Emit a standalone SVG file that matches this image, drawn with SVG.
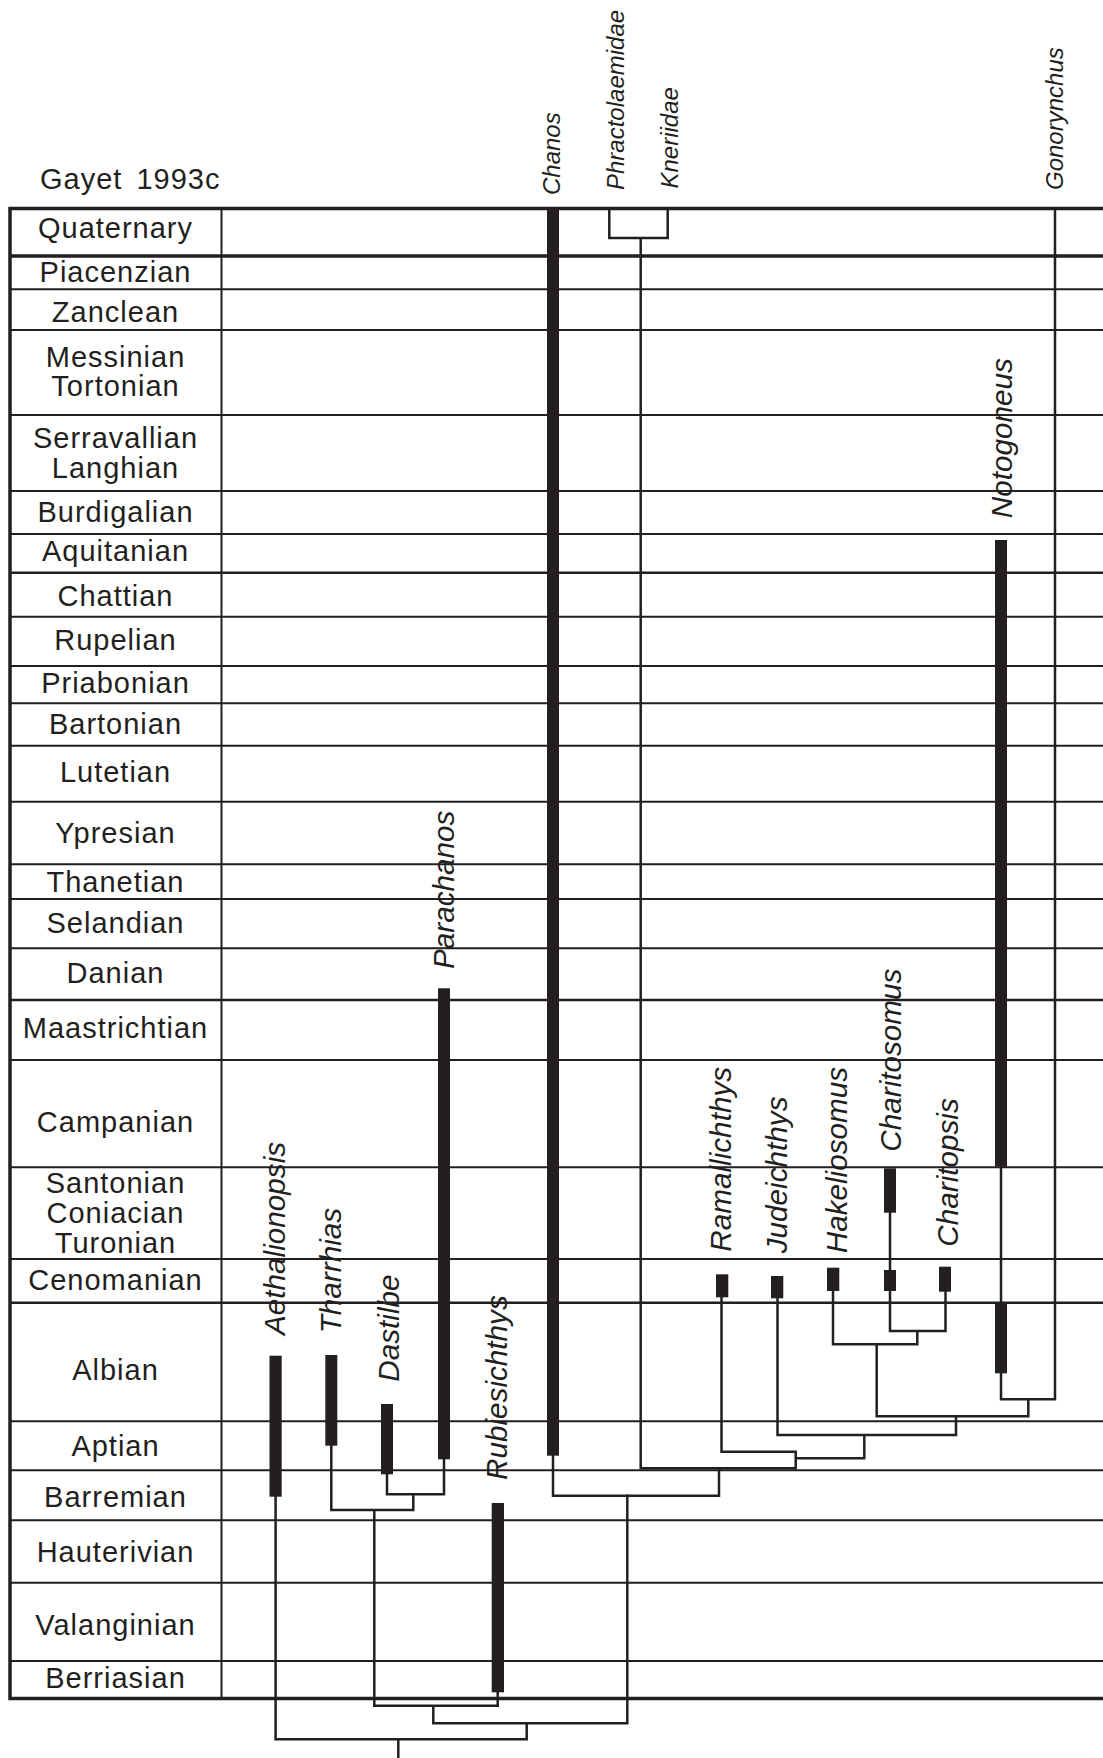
<svg xmlns="http://www.w3.org/2000/svg" width="1103" height="1758" viewBox="0 0 1103 1758">
<style>
.bg{fill:#ffffff}
.row{stroke:#231f20;stroke-width:2;fill:none}
.rowk{stroke:#231f20;stroke-width:2.6;fill:none}
.frame{stroke:#231f20;stroke-width:3.5;fill:none}
.lab{font-family:"Liberation Sans",Arial,Helvetica,sans-serif;font-size:29px;letter-spacing:1px;text-anchor:middle;fill:#231f20}
.title{font-family:"Liberation Sans",Arial,Helvetica,sans-serif;font-size:29px;letter-spacing:1px;word-spacing:5px;fill:#231f20}
.tx{font-family:"Liberation Sans",Arial,Helvetica,sans-serif;font-style:italic;font-size:29.7px;fill:#231f20}
.txs{font-family:"Liberation Sans",Arial,Helvetica,sans-serif;font-style:italic;font-size:24px;fill:#231f20}
.bar{fill:#231f20}
.ln{stroke:#231f20;stroke-width:2.5;fill:none;stroke-linecap:square}
</style>
<rect class="bg" x="0" y="0" width="1103" height="1758"/>
<text class="title" x="40" y="189">Gayet 1993c</text>
<g id="timescale">
<path class="frame" d="M1103,208.5 H10 V1698.5 H1103"/>
<path class="frame" d="M10,256 H1103"/>
<path class="row" d="M221.5,208.5 V1698.5"/>
<path class="row" d="M10,289.3 H1103 M10,330 H1103 M10,415 H1103 M10,491 H1103 M10,534 H1103 M10,616.7 H1103 M10,666 H1103 M10,703.3 H1103 M10,745.7 H1103 M10,801.7 H1103 M10,864.3 H1103 M10,899 H1103 M10,948.3 H1103 M10,1060 H1103 M10,1167.3 H1103 M10,1259 H1103 M10,1421.3 H1103 M10,1470.3 H1103 M10,1520.3 H1103 M10,1582.7 H1103 M10,1661 H1103"/>
<path class="rowk" d="M10,572.7 H1103 M10,1000 H1103 M10,1302.7 H1103"/>
<text class="lab" x="115.5" y="238.3">Quaternary</text>
<text class="lab" x="115.5" y="281.7">Piacenzian</text>
<text class="lab" x="115.5" y="321.7">Zanclean</text>
<text class="lab" x="115.5" y="367.3">Messinian</text>
<text class="lab" x="115.5" y="396">Tortonian</text>
<text class="lab" x="115.5" y="448.3">Serravallian</text>
<text class="lab" x="115.5" y="477.7">Langhian</text>
<text class="lab" x="115.5" y="521.7">Burdigalian</text>
<text class="lab" x="115.5" y="561">Aquitanian</text>
<text class="lab" x="115.5" y="605.7">Chattian</text>
<text class="lab" x="115.5" y="650">Rupelian</text>
<text class="lab" x="115.5" y="693.3">Priabonian</text>
<text class="lab" x="115.5" y="734.3">Bartonian</text>
<text class="lab" x="115.5" y="781.7">Lutetian</text>
<text class="lab" x="115.5" y="843.3">Ypresian</text>
<text class="lab" x="115.5" y="891.7">Thanetian</text>
<text class="lab" x="115.5" y="932.7">Selandian</text>
<text class="lab" x="115.5" y="983.3">Danian</text>
<text class="lab" x="115.5" y="1038.3">Maastrichtian</text>
<text class="lab" x="115.5" y="1131.7">Campanian</text>
<text class="lab" x="115.5" y="1193.3">Santonian</text>
<text class="lab" x="115.5" y="1222.7">Coniacian</text>
<text class="lab" x="115.5" y="1252.7">Turonian</text>
<text class="lab" x="115.5" y="1290">Cenomanian</text>
<text class="lab" x="115.5" y="1380">Albian</text>
<text class="lab" x="115.5" y="1456">Aptian</text>
<text class="lab" x="115.5" y="1507.3">Barremian</text>
<text class="lab" x="115.5" y="1561.7">Hauterivian</text>
<text class="lab" x="115.5" y="1635">Valanginian</text>
<text class="lab" x="115.5" y="1688.3">Berriasian</text>
</g>
<g id="connectors">
<path class="ln" d="M275.6,1496 V1739.3 H526.7 V1723.3 M398.3,1739.3 V1758"/>
<path class="ln" d="M331.3,1445 V1510 H413.3 V1494.3 M387,1474 V1494.3 H444 V1459 M374.3,1510 V1705.7 H497.7 V1692 M433.3,1705.7 V1723.3 H627.3 V1495.7 H553 V1455"/>
<path class="ln" d="M627.3,1495.7 H719 V1468.3 H640.7 V238 M609.3,208.5 V238 H667.7 V208.5"/>
<path class="ln" d="M719,1468.3 H795.7 V1451.7 H721.5 V1297 M795.7,1458.3 H864.3 V1435 H777.5 V1298 M864.3,1435 H956 V1416.3 H876.7 V1344.3 M833,1291 V1344.3 H917.3 V1331 M876.7,1416.3 H1028.3 V1399.3 H1001 V1373 M1028.3,1399.3 H1055 V208.5 M890,1291 V1331 H945.5 V1291.5 M890,1270 V1212.5 M1001,1166.7 V1302.7"/>
</g>
<g id="Chanos"><rect class="bar" x="547" y="208.5" width="12" height="1247.2"/><text class="txs" transform="translate(559.5,195) rotate(-90)">Chanos</text></g>
<g id="Phractolaemidae"><text class="txs" transform="translate(623.5,190) rotate(-90)">Phractolaemidae</text></g>
<g id="Kneriidae"><text class="txs" transform="translate(677.5,188.5) rotate(-90)">Kneriidae</text></g>
<g id="Gonorynchus"><text class="txs" transform="translate(1063,190) rotate(-90)">Gonorynchus</text></g>
<g id="Notogoneus"><rect class="bar" x="995" y="540" width="12" height="626.7"/><rect class="bar" x="995" y="1302.7" width="12" height="70.6"/><text class="tx" transform="translate(1011.5,518.3) rotate(-90)">Notogoneus</text></g>
<g id="Parachanos"><rect class="bar" x="438" y="988.3" width="12" height="471"/><text class="tx" transform="translate(453.5,969) rotate(-90)">Parachanos</text></g>
<g id="Aethalionopsis"><rect class="bar" x="269.5" y="1355.7" width="12.2" height="141"/><text class="tx" transform="translate(284.5,1335) rotate(-90)">Aethalionopsis</text></g>
<g id="Tharrhias"><rect class="bar" x="325.3" y="1355" width="12" height="90.7"/><text class="tx" transform="translate(341,1333.3) rotate(-90)">Tharrhias</text></g>
<g id="Dastilbe"><rect class="bar" x="381" y="1404" width="12" height="70.3"/><text class="tx" transform="translate(399,1381.7) rotate(-90)">Dastilbe</text></g>
<g id="Rubiesichthys"><rect class="bar" x="491.7" y="1503" width="12.3" height="189.3"/><text class="tx" transform="translate(507,1480) rotate(-90)">Rubiesichthys</text></g>
<g id="Ramallichthys"><rect class="bar" x="716" y="1274.3" width="12.3" height="23"/><text class="tx" transform="translate(731,1251.7) rotate(-90)">Ramallichthys</text></g>
<g id="Judeichthys"><rect class="bar" x="771" y="1276" width="12.3" height="22.3"/><text class="tx" transform="translate(787,1253.3) rotate(-90)">Judeichthys</text></g>
<g id="Hakeliosomus"><rect class="bar" x="827" y="1267.7" width="12.3" height="23.3"/><text class="tx" transform="translate(846.5,1253.3) rotate(-90)">Hakeliosomus</text></g>
<g id="Charitosomus"><rect class="bar" x="884" y="1168.3" width="12" height="44.4"/><rect class="bar" x="884" y="1270" width="12" height="21"/><text class="tx" transform="translate(900.5,1151.7) rotate(-90)">Charitosomus</text></g>
<g id="Charitopsis"><rect class="bar" x="939" y="1266.7" width="12" height="25"/><text class="tx" transform="translate(957.5,1246.7) rotate(-90)">Charitopsis</text></g>
</svg>
